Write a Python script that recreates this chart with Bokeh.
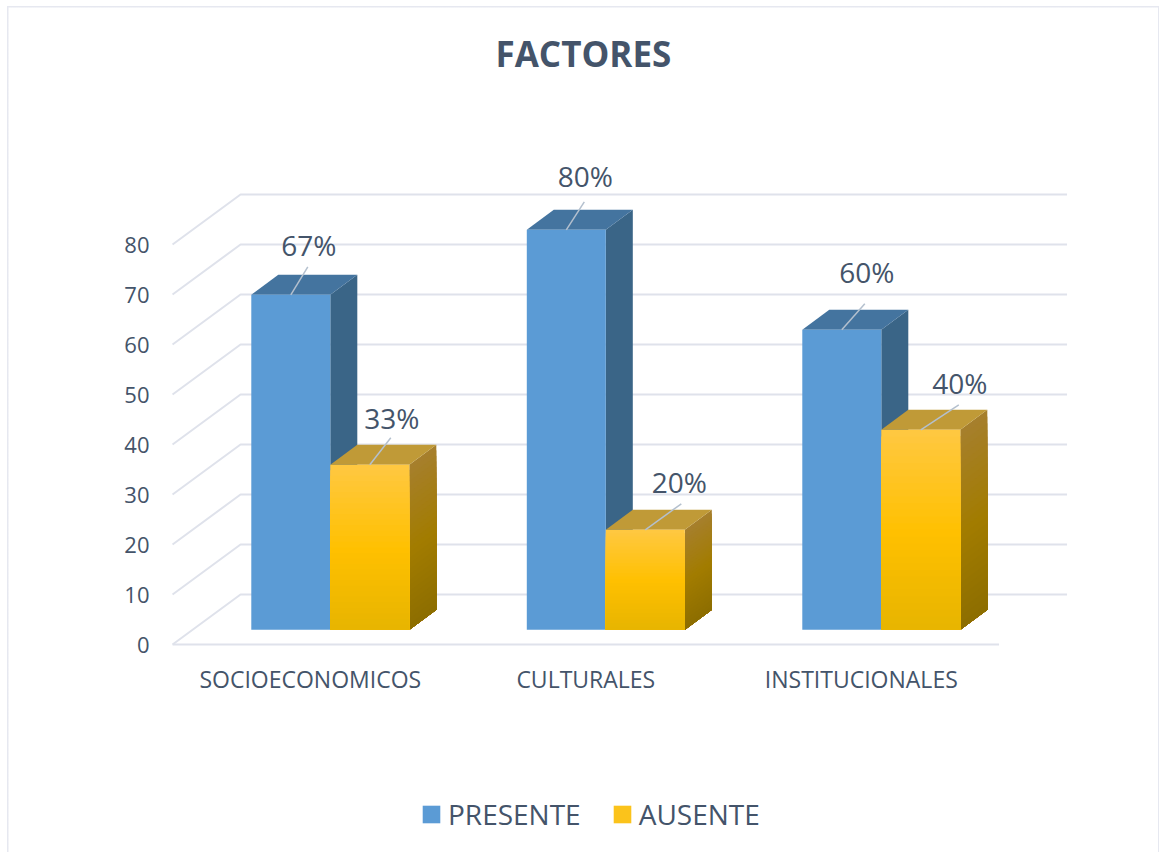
from bokeh.plotting import figure
from bokeh.embed import file_html
from bokeh.resources import INLINE
from bokeh.models import Range1d, FixedTicker, Legend, LegendItem
from bokeh.core.properties import value

# ---- data -------------------------------------------------------------
categories = ["SOCIOECONOMICOS", "CULTURALES", "INSTITUCIONALES"]
presente = [67, 80, 60]
ausente = [33, 20, 40]
y_ticks = [0, 10, 20, 30, 40, 50, 60, 70, 80]
title_text = "FACTORES"

# data-label placement, in pixels relative to the front-top-centre of each bar
pres_leader = [(17, 28), (18, 28), (23, 26)]
aus_leader = [(21, 27), (36, 26), (38, 25)]
pres_label = [(18, 50), (19, 54), (25, 58)]
aus_label = [(22, 47), (34, 48), (39, 47)]

# ---- scale set-up -----------------------------------------------------
W, H = 1159, 852
FRAME_L, FRAME_T = 155, 76     # canvas pixels
Y0_CANVAS = 644
PX_X = 275.5      # px per category
PX_Y = 5.0        # px per value unit
X0_CANVAS = 309.8 # canvas px of category 0 centre
xr = Range1d((FRAME_L - X0_CANVAS) / PX_X, (W - X0_CANVAS) / PX_X)
yr = Range1d((Y0_CANVAS - H) / PX_Y, (Y0_CANVAS - FRAME_T) / PX_Y)

DEPTH_X = 68 / PX_X     # full floor depth
DEPTH_Y = 10.0
BAR_W = 79 / PX_X
OFF_X = 20 / PX_X       # front of bars relative to the front of the floor
OFF_Y = 2.94
BAR_DX = 27 / PX_X      # depth of a bar
BAR_DY = 4.0

TEXT = "#44546A"
GRID = "#DFE2EB"
EDGE = "#E6E8F0"
FONT = value("Open Sans")

p = figure(width=W, height=H, x_range=xr, y_range=yr, output_backend="svg",
           toolbar_location=None, min_border_left=FRAME_L, min_border_right=0,
           min_border_top=FRAME_T, min_border_bottom=0,
           background_fill_color=None, border_fill_color=None,
           outline_line_color=None)
bar = f"linear-gradient({EDGE},{EDGE})"
p.styles = {
    "background-color": "white",
    "background-image": f"{bar},{bar},{bar}",
    "background-repeat": "no-repeat",
    "background-position": "6.5px 6px, 6.5px 6px, 1157.5px 6px",
    "background-size": "1.5px 846px, 1152px 1.5px, 1.5px 846px",
}
p.grid.visible = False

p.title.text = title_text
p.title.text_font = "Open Sans"
p.title.text_font_size = "35px"
p.title.text_font_style = "bold"
p.title.text_color = TEXT
p.title.align = "left"
p.title.offset = 340
p.title.standoff = 0

p.yaxis.ticker = FixedTicker(ticks=y_ticks)
p.yaxis.axis_line_color = None
p.yaxis.major_tick_line_color = None
p.yaxis.minor_tick_line_color = None
p.yaxis.major_label_text_font = "Open Sans"
p.yaxis.major_label_text_font_size = "22px"
p.yaxis.major_label_text_color = TEXT
p.yaxis.major_label_standoff = 0

p.xaxis.ticker = FixedTicker(ticks=list(range(len(categories))))
p.xaxis.major_label_overrides = {i: c for i, c in enumerate(categories)}
p.xaxis.axis_line_color = None
p.xaxis.major_tick_line_color = None
p.xaxis.minor_tick_line_color = None
p.xaxis.major_label_text_font = "Open Sans"
p.xaxis.major_label_text_font_size = "23px"
p.xaxis.major_label_text_color = TEXT
p.xaxis.major_label_standoff = -196

# ---- floor and walls --------------------------------------------------
n = len(categories)
left, right = -0.5, n - 0.5
xs, ys = [], []
xs.append([left, right]); ys.append([0, 0])
for v in y_ticks:
    xs.append([left, left + DEPTH_X, right + DEPTH_X])
    ys.append([v, v + DEPTH_Y, v + DEPTH_Y])
p.multi_line(xs, ys, line_color=GRID, line_width=2)


# ---- helper for the gradients ------------------------------------------
def hex2rgb(h):
    return tuple(int(h[i:i + 2], 16) for i in (1, 3, 5))


def ramp(stops, t):
    for (a, ca), (b, cb) in zip(stops, stops[1:]):
        if t <= b:
            f = (t - a) / (b - a)
            ra, rb = hex2rgb(ca), hex2rgb(cb)
            return "#%02X%02X%02X" % tuple(round(x + (y - x) * f) for x, y in zip(ra, rb))
    return stops[-1][1]


GOLD_FRONT = [(0, "#FFC840"), (0.5, "#FFC000"), (1, "#E6B400")]
GOLD_SIDE = [(0, "#A67F2C"), (0.5, "#A27C00"), (1, "#8C6D00")]
STRIPS = 30


def draw_box(xl, top, color_top, front=None, side=None):
    xr_ = xl + BAR_W
    y0 = OFF_Y
    y1 = top + OFF_Y
    if isinstance(side, str):
        p.patch([xr_, xr_ + BAR_DX, xr_ + BAR_DX, xr_],
                [y0, y0 + BAR_DY, y1 + BAR_DY, y1], fill_color=side, line_color=None)
    else:
        for i in range(STRIPS):
            t = i / STRIPS
            yy = y1 + (y0 - y1) * t
            p.patch([xr_, xr_ + BAR_DX, xr_ + BAR_DX, xr_],
                    [y0, y0 + BAR_DY, yy + BAR_DY, yy],
                    fill_color=ramp(side, t), line_color=None)
    p.patch([xl, xr_, xr_ + BAR_DX, xl + BAR_DX],
            [y1, y1, y1 + BAR_DY, y1 + BAR_DY], fill_color=color_top, line_color=None)
    if isinstance(front, str):
        return p.quad(left=xl, right=xr_, bottom=y0, top=y1, fill_color=front, line_color=None)
    r = None
    for i in range(STRIPS):
        t = i / STRIPS
        yy = y1 + (y0 - y1) * t
        r = p.quad(left=xl, right=xr_, bottom=y0, top=yy, fill_color=ramp(front, t), line_color=None)
    return r


for i in range(n):
    c = i + OFF_X
    draw_box(c - BAR_W, presente[i], "#44749F", front="#5B9BD5", side="#3A6587")
    draw_box(c, ausente[i], "#C09A37", front=GOLD_FRONT, side=GOLD_SIDE)

# ---- leaders and data labels -------------------------------------------
lx, ly, tx, ty, tt = [], [], [], [], []
for i in range(n):
    for val, w, ld, lb in ((presente[i], -0.5, pres_leader[i], pres_label[i]),
                           (ausente[i], 0.5, aus_leader[i], aus_label[i])):
        ax = i + OFF_X + w * BAR_W
        ay = val + OFF_Y
        lx.append([ax, ax + ld[0] / PX_X])
        ly.append([ay, ay + ld[1] / PX_Y])
        tx.append(ax + lb[0] / PX_X)
        ty.append(ay + lb[1] / PX_Y)
        tt.append(f"{val}%")
p.multi_line(lx, ly, line_color="#B4C0CE", line_width=1.5)
p.text(x=tx, y=ty, text=tt, text_font=FONT, text_font_size=value("28px"),
       text_color=TEXT, text_align="center", text_baseline="middle")

# ---- legend -------------------------------------------------------------
legend_swatch_blue = p.quad(left=[0], right=[0], bottom=[0], top=[0], fill_color="#5B9BD5", line_color=None)
legend_swatch_gold = p.quad(left=[0], right=[0], bottom=[0], top=[0], fill_color="#FBC31B", line_color=None)
legend = Legend(items=[LegendItem(label="PRESENTE", renderers=[legend_swatch_blue]),
                       LegendItem(label="AUSENTE", renderers=[legend_swatch_gold])],
                orientation="horizontal", location=(265, 19), margin=0, padding=0,
                border_line_color=None, background_fill_alpha=0,
                label_text_font="Open Sans", label_text_font_size="28px",
                label_text_color=TEXT, glyph_width=22, glyph_height=22,
                label_standoff=6, spacing=30, label_height=30)
p.add_layout(legend, "center")

open("out.html", "w").write(file_html(p, INLINE))
